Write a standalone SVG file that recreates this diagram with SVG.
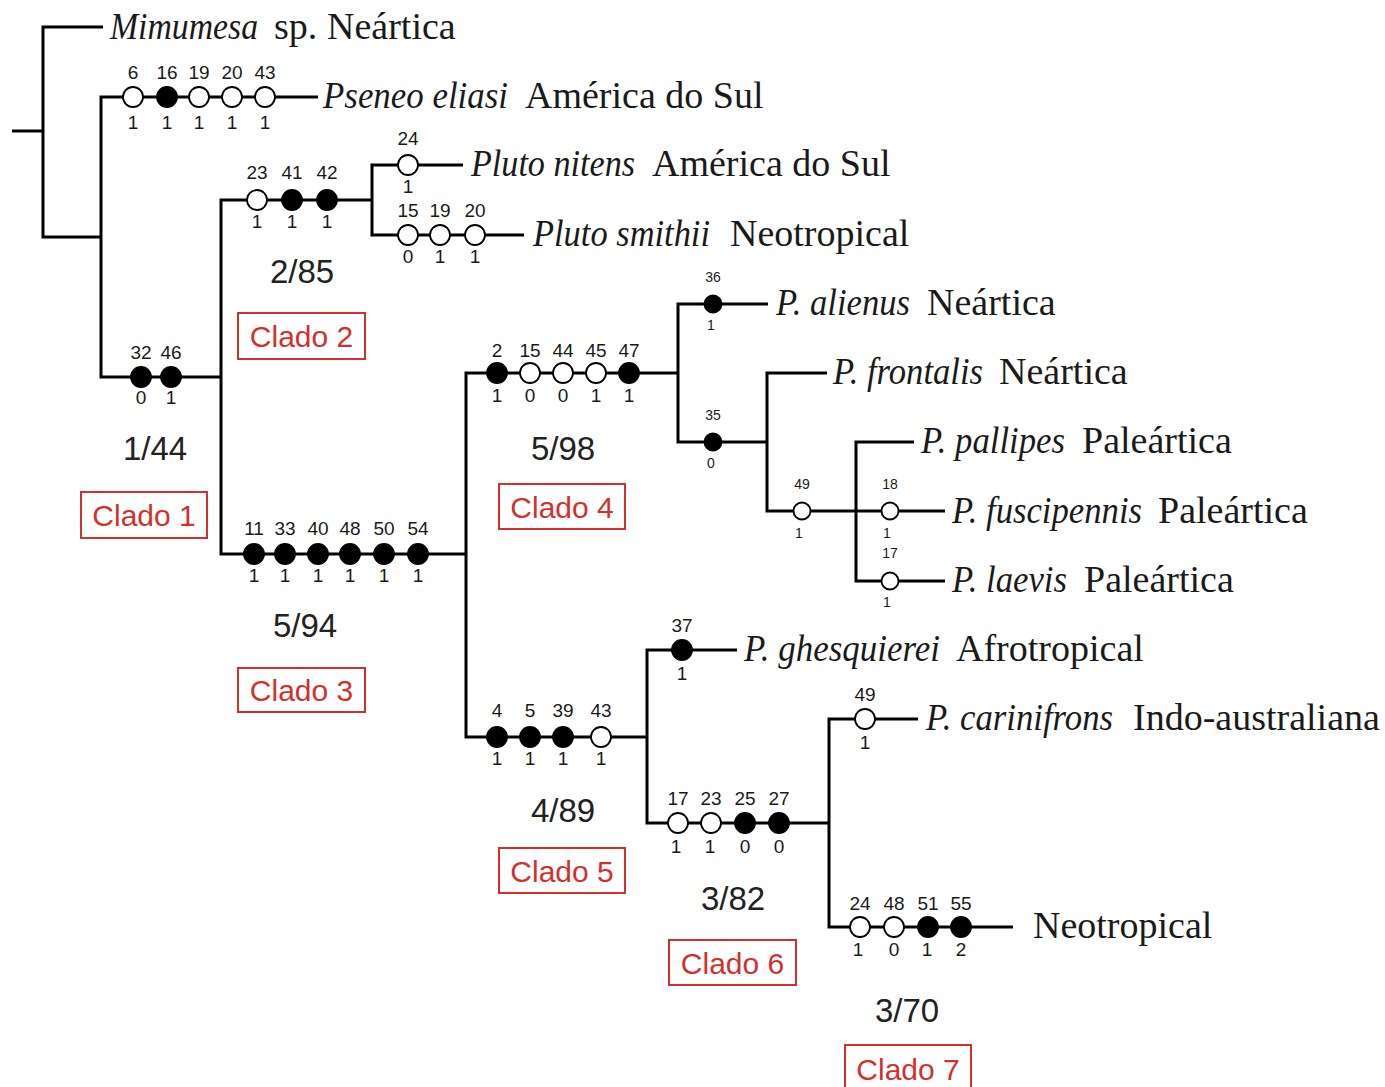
<svg xmlns="http://www.w3.org/2000/svg" width="1385" height="1087" viewBox="0 0 1385 1087">
<style>
.br{fill:none;stroke:#000;stroke-width:3;stroke-linejoin:miter;stroke-linecap:butt}
.o{fill:#fff;stroke:#000;stroke-width:1.8}
.f{fill:#000;stroke:#000;stroke-width:1.8}
.n{font-family:"Liberation Sans",Arial,sans-serif;font-size:19px;fill:#1a1a1a;text-anchor:middle}
.s{font-family:"Liberation Sans",Arial,sans-serif;font-size:14px;fill:#1a1a1a;text-anchor:middle}
.t{font-family:"Liberation Serif","Times New Roman",serif;font-size:38px;fill:#1a1a1a}
.i{font-style:italic}
.v{font-family:"Liberation Sans",Arial,sans-serif;font-size:33px;fill:#222;text-anchor:middle}
.cb{fill:#fff;stroke:#d3302c;stroke-width:2}
.ct{font-family:"Liberation Sans",Arial,sans-serif;font-size:30px;fill:#d3302c;text-anchor:middle}
</style>
<rect width="1385" height="1087" fill="#fff"/>
<g id="connectors">
<path class="br" d="M12,131 H43"/>
<path class="br" d="M103,27 H43 V237 H101"/>
<path class="br" d="M318,97 H101 V377 H221"/>
<path class="br" d="M372,200 H221 V554 H466"/>
<path class="br" d="M463,165 H372 V235 H524"/>
<path class="br" d="M678,373 H466 V737 H647"/>
<path class="br" d="M768,304 H678 V442 H767"/>
<path class="br" d="M827,373 H767 V511 H945"/>
<path class="br" d="M914,442 H856 V581 H945"/>
<path class="br" d="M737,650 H647 V823 H829"/>
<path class="br" d="M918,719 H829 V927 H1013"/>
</g>
<g id="taxon-mimumesa">
<text class="t i" x="110" y="39" textLength="148" lengthAdjust="spacingAndGlyphs">Mimumesa</text>
<text class="t" x="274" y="39">sp.</text>
<text class="t" x="327" y="39">Neártica</text>
</g>
<g id="taxon-pseneo">
<text class="t i" x="323" y="108" textLength="185" lengthAdjust="spacingAndGlyphs">Pseneo eliasi</text>
<text class="t" x="525" y="108">América do Sul</text>
</g>
<g id="taxon-pluto-nitens">
<text class="t i" x="471" y="176" textLength="164" lengthAdjust="spacingAndGlyphs">Pluto nitens</text>
<text class="t" x="652" y="176">América do Sul</text>
</g>
<g id="taxon-pluto-smithii">
<text class="t i" x="533" y="246" textLength="177" lengthAdjust="spacingAndGlyphs">Pluto smithii</text>
<text class="t" x="730" y="246">Neotropical</text>
</g>
<g id="taxon-alienus">
<text class="t i" x="776" y="315" textLength="134" lengthAdjust="spacingAndGlyphs">P. alienus</text>
<text class="t" x="927" y="315">Neártica</text>
</g>
<g id="taxon-frontalis">
<text class="t i" x="833" y="384" textLength="150" lengthAdjust="spacingAndGlyphs">P. frontalis</text>
<text class="t" x="999" y="384">Neártica</text>
</g>
<g id="taxon-pallipes">
<text class="t i" x="921" y="453" textLength="144" lengthAdjust="spacingAndGlyphs">P. pallipes</text>
<text class="t" x="1082" y="453">Paleártica</text>
</g>
<g id="taxon-fuscipennis">
<text class="t i" x="952" y="523" textLength="190" lengthAdjust="spacingAndGlyphs">P. fuscipennis</text>
<text class="t" x="1158" y="523">Paleártica</text>
</g>
<g id="taxon-laevis">
<text class="t i" x="952" y="592" textLength="115" lengthAdjust="spacingAndGlyphs">P. laevis</text>
<text class="t" x="1084" y="592">Paleártica</text>
</g>
<g id="taxon-ghesquierei">
<text class="t i" x="744" y="661" textLength="196" lengthAdjust="spacingAndGlyphs">P. ghesquierei</text>
<text class="t" x="956" y="661">Afrotropical</text>
</g>
<g id="taxon-carinifrons">
<text class="t i" x="926" y="730" textLength="187" lengthAdjust="spacingAndGlyphs">P. carinifrons</text>
<text class="t" x="1133" y="730">Indo-australiana</text>
</g>
<g id="taxon-neotropical">
<text class="t" x="1033" y="938">Neotropical</text>
</g>
<g id="chars-pseneo">
<circle class="o" cx="133" cy="97" r="10"/><circle class="f" cx="167" cy="97" r="10"/><circle class="o" cx="199" cy="97" r="10"/><circle class="o" cx="232" cy="97" r="10"/><circle class="o" cx="265" cy="97" r="10"/>
<text class="n" x="133" y="79">6</text><text class="n" x="167" y="79">16</text><text class="n" x="199" y="79">19</text><text class="n" x="232" y="79">20</text><text class="n" x="265" y="79">43</text>
<text class="n" x="133" y="129">1</text><text class="n" x="167" y="129">1</text><text class="n" x="199" y="129">1</text><text class="n" x="232" y="129">1</text><text class="n" x="265" y="129">1</text>
</g>
<g id="chars-clado2">
<circle class="o" cx="257" cy="200" r="10"/><circle class="f" cx="292" cy="200" r="10"/><circle class="f" cx="327" cy="200" r="10"/>
<text class="n" x="257" y="179">23</text><text class="n" x="292" y="179">41</text><text class="n" x="327" y="179">42</text>
<text class="n" x="257" y="228">1</text><text class="n" x="292" y="228">1</text><text class="n" x="327" y="228">1</text>
</g>
<g id="chars-pluto-nitens">
<circle class="o" cx="408" cy="165" r="10"/>
<text class="n" x="408" y="145">24</text><text class="n" x="408" y="193">1</text>
</g>
<g id="chars-pluto-smithii">
<circle class="o" cx="408" cy="235" r="10"/><circle class="o" cx="440" cy="235" r="10"/><circle class="o" cx="475" cy="235" r="10"/>
<text class="n" x="408" y="217">15</text><text class="n" x="440" y="217">19</text><text class="n" x="475" y="217">20</text>
<text class="n" x="408" y="263">0</text><text class="n" x="440" y="263">1</text><text class="n" x="475" y="263">1</text>
</g>
<g id="chars-clado1">
<circle class="f" cx="141" cy="377" r="10"/><circle class="f" cx="171" cy="377" r="10"/>
<text class="n" x="141" y="359">32</text><text class="n" x="171" y="359">46</text>
<text class="n" x="141" y="404">0</text><text class="n" x="171" y="404">1</text>
</g>
<g id="chars-clado3">
<circle class="f" cx="254" cy="554" r="10"/><circle class="f" cx="285" cy="554" r="10"/><circle class="f" cx="318" cy="554" r="10"/><circle class="f" cx="350" cy="554" r="10"/><circle class="f" cx="384" cy="554" r="10"/><circle class="f" cx="418" cy="554" r="10"/>
<text class="n" x="254" y="535">11</text><text class="n" x="285" y="535">33</text><text class="n" x="318" y="535">40</text><text class="n" x="350" y="535">48</text><text class="n" x="384" y="535">50</text><text class="n" x="418" y="535">54</text>
<text class="n" x="254" y="582">1</text><text class="n" x="285" y="582">1</text><text class="n" x="318" y="582">1</text><text class="n" x="350" y="582">1</text><text class="n" x="384" y="582">1</text><text class="n" x="418" y="582">1</text>
</g>
<g id="chars-clado4">
<circle class="f" cx="497" cy="373" r="10"/><circle class="o" cx="530" cy="373" r="10"/><circle class="o" cx="563" cy="373" r="10"/><circle class="o" cx="596" cy="373" r="10"/><circle class="f" cx="629" cy="373" r="10"/>
<text class="n" x="497" y="357">2</text><text class="n" x="530" y="357">15</text><text class="n" x="563" y="357">44</text><text class="n" x="596" y="357">45</text><text class="n" x="629" y="357">47</text>
<text class="n" x="497" y="402">1</text><text class="n" x="530" y="402">0</text><text class="n" x="563" y="402">0</text><text class="n" x="596" y="402">1</text><text class="n" x="629" y="402">1</text>
</g>
<g id="chars-alienus">
<circle class="f" cx="713" cy="304" r="8.5"/>
<text class="s" x="713" y="282">36</text><text class="s" x="711" y="330">1</text>
</g>
<g id="chars-35">
<circle class="f" cx="713" cy="442" r="8.5"/>
<text class="s" x="713" y="420">35</text><text class="s" x="711" y="468">0</text>
</g>
<g id="chars-49a">
<circle class="o" cx="802" cy="511" r="8.5"/>
<text class="s" x="802" y="489">49</text><text class="s" x="799" y="538">1</text>
</g>
<g id="chars-fuscipennis">
<circle class="o" cx="890" cy="511" r="8.5"/>
<text class="s" x="890" y="489">18</text><text class="s" x="887" y="538">1</text>
</g>
<g id="chars-laevis">
<circle class="o" cx="890" cy="581" r="8.5"/>
<text class="s" x="890" y="558">17</text><text class="s" x="887" y="607">1</text>
</g>
<g id="chars-clado5">
<circle class="f" cx="497" cy="737" r="10"/><circle class="f" cx="530" cy="737" r="10"/><circle class="f" cx="563" cy="737" r="10"/><circle class="o" cx="601" cy="737" r="10"/>
<text class="n" x="497" y="717">4</text><text class="n" x="530" y="717">5</text><text class="n" x="563" y="717">39</text><text class="n" x="601" y="717">43</text>
<text class="n" x="497" y="765">1</text><text class="n" x="530" y="765">1</text><text class="n" x="563" y="765">1</text><text class="n" x="601" y="765">1</text>
</g>
<g id="chars-ghesquierei">
<circle class="f" cx="682" cy="650" r="10"/>
<text class="n" x="682" y="632">37</text><text class="n" x="682" y="680">1</text>
</g>
<g id="chars-clado6">
<circle class="o" cx="678" cy="823" r="10"/><circle class="o" cx="711" cy="823" r="10"/><circle class="f" cx="745" cy="823" r="10"/><circle class="f" cx="779" cy="823" r="10"/>
<text class="n" x="678" y="805">17</text><text class="n" x="711" y="805">23</text><text class="n" x="745" y="805">25</text><text class="n" x="779" y="805">27</text>
<text class="n" x="676" y="853">1</text><text class="n" x="710" y="853">1</text><text class="n" x="745" y="853">0</text><text class="n" x="779" y="853">0</text>
</g>
<g id="chars-carinifrons">
<circle class="o" cx="865" cy="719" r="10"/>
<text class="n" x="865" y="701">49</text><text class="n" x="865" y="749">1</text>
</g>
<g id="chars-clado7">
<circle class="o" cx="860" cy="927" r="10"/><circle class="o" cx="894" cy="927" r="10"/><circle class="f" cx="928" cy="927" r="10"/><circle class="f" cx="961" cy="927" r="10"/>
<text class="n" x="860" y="910">24</text><text class="n" x="894" y="910">48</text><text class="n" x="928" y="910">51</text><text class="n" x="961" y="910">55</text>
<text class="n" x="858" y="956">1</text><text class="n" x="894" y="956">0</text><text class="n" x="927" y="956">1</text><text class="n" x="961" y="956">2</text>
</g>
<g id="clado1">
<text class="v" x="155" y="460">1/44</text>
<rect class="cb" x="81" y="492" width="126" height="46"/>
<text class="ct" x="144" y="526">Clado 1</text>
</g>
<g id="clado2">
<text class="v" x="302" y="283">2/85</text>
<rect class="cb" x="238" y="313" width="127" height="46"/>
<text class="ct" x="301.5" y="347">Clado 2</text>
</g>
<g id="clado3">
<text class="v" x="305" y="637">5/94</text>
<rect class="cb" x="238" y="668" width="127" height="44"/>
<text class="ct" x="301.5" y="701">Clado 3</text>
</g>
<g id="clado4">
<text class="v" x="563" y="460">5/98</text>
<rect class="cb" x="499" y="484" width="126" height="45"/>
<text class="ct" x="562" y="518">Clado 4</text>
</g>
<g id="clado5">
<text class="v" x="563" y="822">4/89</text>
<rect class="cb" x="499" y="848" width="126" height="45"/>
<text class="ct" x="562" y="882">Clado 5</text>
</g>
<g id="clado6">
<text class="v" x="733" y="910">3/82</text>
<rect class="cb" x="669" y="940" width="127" height="45"/>
<text class="ct" x="732.5" y="974">Clado 6</text>
</g>
<g id="clado7">
<text class="v" x="907" y="1022">3/70</text>
<rect class="cb" x="845" y="1045" width="126" height="46"/>
<text class="ct" x="908" y="1080">Clado 7</text>
</g>
</svg>
